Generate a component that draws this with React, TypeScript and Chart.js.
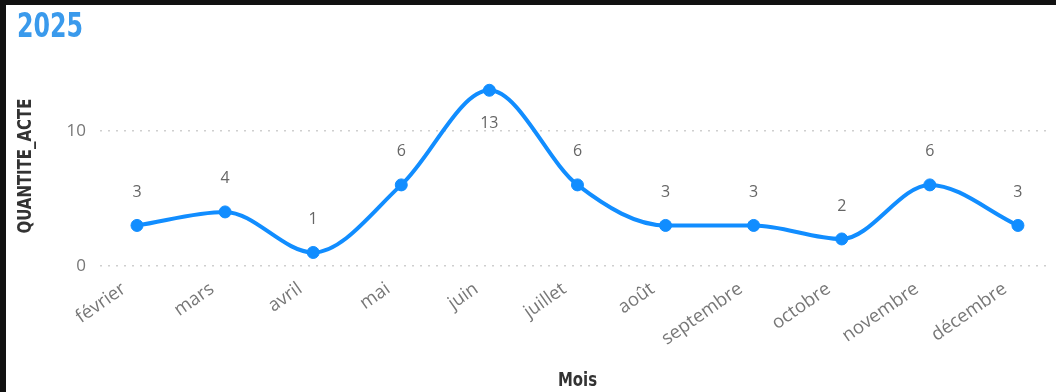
import { useEffect, useRef } from "react";
import { Chart, registerables } from "chart.js";

Chart.register(...registerables);

// Monthly quantities for 2025
const months = [
  "février",
  "mars",
  "avril",
  "mai",
  "juin",
  "juillet",
  "août",
  "septembre",
  "octobre",
  "novembre",
  "décembre",
];
const quantites = [3, 4, 1, 6, 13, 6, 3, 3, 2, 6, 3];
const yTicks = [0, 10];

const chartTitle = "2025";
const yTitle = "QUANTITE_ACTE";
const xTitle = "Mois";

const BLUE = "#118DFF";
const NARROW =
  "'Liberation Sans Narrow', 'DejaVu Sans Condensed', 'Arial Narrow', sans-serif";
const SANS = "'Open Sans', 'Noto Sans', sans-serif";
// horizontal squeeze giving the titles a condensed, DIN-like look
const CONDENSE = 0.83;

// Draws each point's value above it (or below when it would hit the top)
const valueLabels = {
  id: "valueLabels",
  afterDatasetsDraw(chart: any) {
    const { ctx, chartArea } = chart;
    const meta = chart.getDatasetMeta(0);
    ctx.save();
    ctx.font = `16px ${SANS}`;
    ctx.fillStyle = "#666666";
    ctx.textAlign = "center";
    ctx.textBaseline = "middle";
    meta.data.forEach((pt: any, i: number) => {
      let y = pt.y - 33;
      if (y < chartArea.top + 10) y = pt.y + 33;
      ctx.fillText(String(quantites[i]), pt.x, y);
    });
    ctx.restore();
  },
};

// Condensed bold axis titles
const axisTitles = {
  id: "axisTitles",
  afterDraw(chart: any) {
    const { ctx, chartArea } = chart;
    ctx.save();
    ctx.fillStyle = "#333333";
    ctx.font = `bold 20px ${NARROW}`;
    ctx.textAlign = "center";
    ctx.textBaseline = "middle";

    ctx.save();
    ctx.translate(20, (chartArea.top + chartArea.bottom) / 2 - 2);
    ctx.rotate(-Math.PI / 2);
    ctx.scale(CONDENSE, 1);
    ctx.fillText(yTitle, 0, 0);
    ctx.restore();

    ctx.save();
    ctx.translate((chartArea.left + chartArea.right) / 2 + 4, chart.height - 11);
    ctx.scale(CONDENSE, 1);
    ctx.fillText(xTitle, 0, 0);
    ctx.restore();

    ctx.restore();
  },
};

export default function App() {
  const canvasRef = useRef<HTMLCanvasElement | null>(null);

  useEffect(() => {
    if (!canvasRef.current) return;
    const chart = new Chart(canvasRef.current, {
      type: "line",
      data: {
        datasets: [
          {
            data: quantites.map((v, i) => ({ x: i, y: v })),
            borderColor: BLUE,
            backgroundColor: BLUE,
            borderWidth: 4,
            pointRadius: 6,
            pointBorderWidth: 1,
            pointHoverRadius: 6,
            cubicInterpolationMode: "monotone",
            fill: false,
          },
        ],
      },
      options: {
        responsive: false,
        animation: false,
        layout: { padding: { top: 65, right: 9, left: 0, bottom: 0 } },
        plugins: {
          legend: { display: false },
          tooltip: { enabled: false },
          title: { display: false },
        },
        scales: {
          x: {
            type: "linear",
            min: -0.42,
            max: 10.33,
            afterBuildTicks: (s: any) => {
              s.ticks = months.map((_, i) => ({ value: i }));
            },
            afterFit: (s: any) => {
              s.height = 126;
            },
            grid: { display: false, drawTicks: false },
            border: { display: false },
            ticks: {
              autoSkip: false,
              minRotation: 35,
              maxRotation: 35,
              padding: 12,
              labelOffset: -13,
              color: "#777777",
              font: { family: SANS, size: 18.5 },
              callback: (v: any) => months[v as number] ?? "",
            },
            title: { display: false },
          },
          y: {
            min: 0,
            max: 14.5,
            afterBuildTicks: (s: any) => {
              s.ticks = yTicks.map((v) => ({ value: v }));
            },
            afterFit: (s: any) => {
              s.width = 94;
            },
            grid: { color: "#cfcfcf", lineWidth: 1.5, drawTicks: false },
            border: { display: false, dash: [2, 6] },
            ticks: {
              padding: 14,
              color: "#777777",
              font: { family: SANS, size: 17 },
            },
            title: { display: false },
          },
        },
      },
      plugins: [valueLabels, axisTitles],
    } as any);
    return () => chart.destroy();
  }, []);

  return (
    <div
      style={{
        position: "fixed",
        left: 0,
        top: 0,
        width: 1056,
        height: 392,
        boxSizing: "border-box",
        borderTop: "5px solid #111",
        borderLeft: "6px solid #111",
        background: "#fff",
        overflow: "hidden",
      }}
    >
      <div
        style={{
          position: "absolute",
          left: 11,
          top: 4,
          fontFamily: NARROW,
          fontWeight: "bold",
          fontSize: 33,
          lineHeight: 1,
          color: "#3A9AEC",
          transform: `scaleX(0.8)`,
          transformOrigin: "left top",
        }}
      >
        {chartTitle}
      </div>
      <canvas
        ref={canvasRef}
        width={1050}
        height={387}
        style={{ display: "block", width: 1050, height: 387 }}
      />
    </div>
  );
}
